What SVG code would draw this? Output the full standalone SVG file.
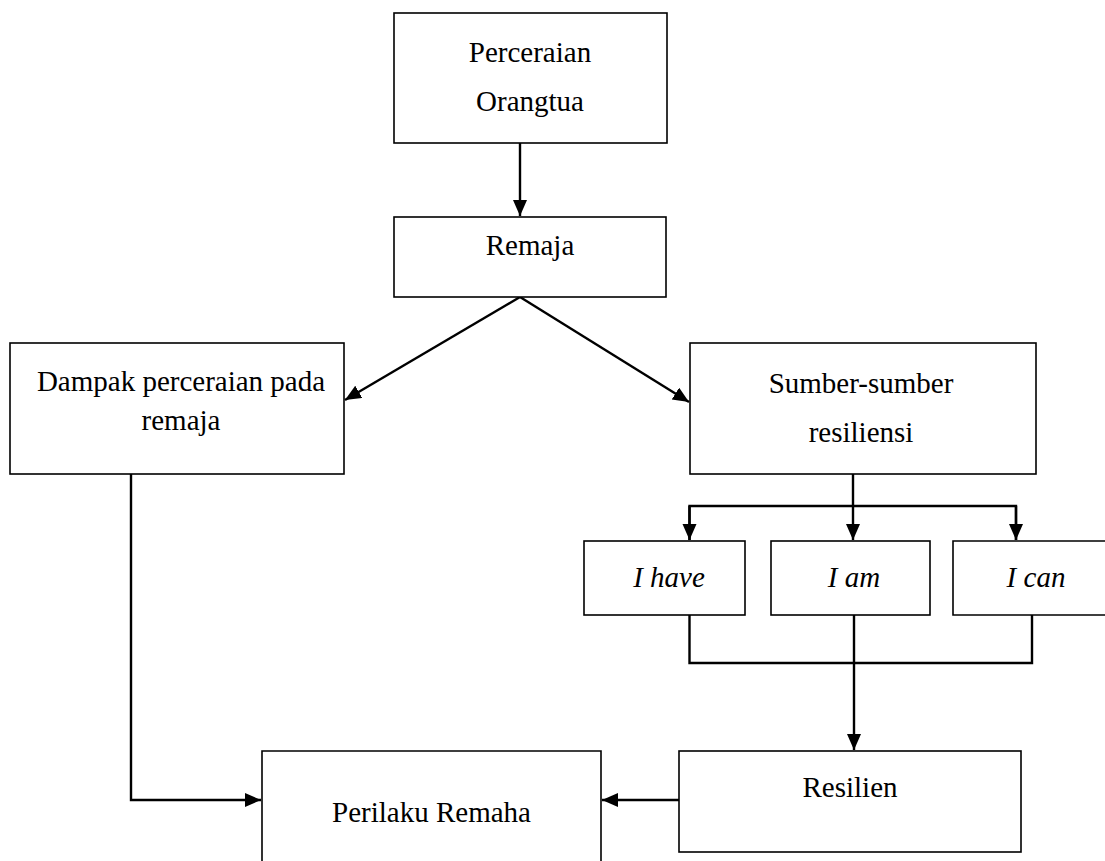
<svg xmlns="http://www.w3.org/2000/svg" width="1105" height="861" viewBox="0 0 1105 861">
<style>
.box{fill:#fff;stroke:#000;stroke-width:1.6}
.t{font-family:"Liberation Serif","Times New Roman",serif;font-size:29px;fill:#000;text-anchor:middle}
.i{font-style:italic}
.c{fill:none;stroke:#000;stroke-width:2.4}
</style>
<defs>
<marker id="ah" markerUnits="userSpaceOnUse" markerWidth="18" markerHeight="16" refX="16" refY="7" orient="auto">
<path d="M0,0 L16,7 L0,14 Z" fill="#000"/>
</marker>
</defs>
<rect width="1105" height="861" fill="#fff"/>
<g id="connectors">
<path class="c" d="M520,143 V216" marker-end="url(#ah)"/>
<path class="c" d="M520,297 L345,400" marker-end="url(#ah)"/>
<path class="c" d="M520,297 L689,402" marker-end="url(#ah)"/>
<path class="c" d="M853,474 V540" marker-end="url(#ah)"/>
<path class="c" d="M689.5,540 V506 H1016 V540" />
<path class="c" d="M689.5,506 V540" marker-end="url(#ah)"/>
<path class="c" d="M1016,506 V540" marker-end="url(#ah)"/>
<path class="c" d="M689.5,615 V663 H1032 V615"/>
<path class="c" d="M854,615 V750" marker-end="url(#ah)"/>
<path class="c" d="M679,800 H602" marker-end="url(#ah)"/>
<path class="c" d="M131,474 V800 H261" marker-end="url(#ah)"/>
</g>
<g id="perceraian-orangtua">
<rect class="box" x="394" y="13" width="273" height="130"/>
<text class="t" x="530" y="62">Perceraian</text>
<text class="t" x="530" y="111">Orangtua</text>
</g>
<g id="remaja">
<rect class="box" x="394" y="217" width="272" height="80"/>
<text class="t" x="530" y="255">Remaja</text>
</g>
<g id="dampak">
<rect class="box" x="10" y="343" width="334" height="131"/>
<text class="t" x="181" y="391">Dampak perceraian pada</text>
<text class="t" x="181" y="430">remaja</text>
</g>
<g id="sumber">
<rect class="box" x="690" y="343" width="346" height="131"/>
<text class="t" x="861" y="393">Sumber-sumber</text>
<text class="t" x="861" y="442">resiliensi</text>
</g>
<g id="i-have">
<rect class="box" x="584" y="541" width="161" height="74"/>
<text class="t i" x="669" y="587">I have</text>
</g>
<g id="i-am">
<rect class="box" x="771" y="541" width="159" height="74"/>
<text class="t i" x="854" y="587">I am</text>
</g>
<g id="i-can">
<path class="box" d="M1110,541 H953 V615 H1110"/>
<text class="t i" x="1036" y="587">I can</text>
</g>
<g id="resilien">
<rect class="box" x="679" y="751" width="342" height="101"/>
<text class="t" x="850" y="797">Resilien</text>
</g>
<g id="perilaku-remaha">
<path class="box" d="M262,865 V751 H601 V865"/>
<text class="t" x="431.5" y="822">Perilaku Remaha</text>
</g>
</svg>
